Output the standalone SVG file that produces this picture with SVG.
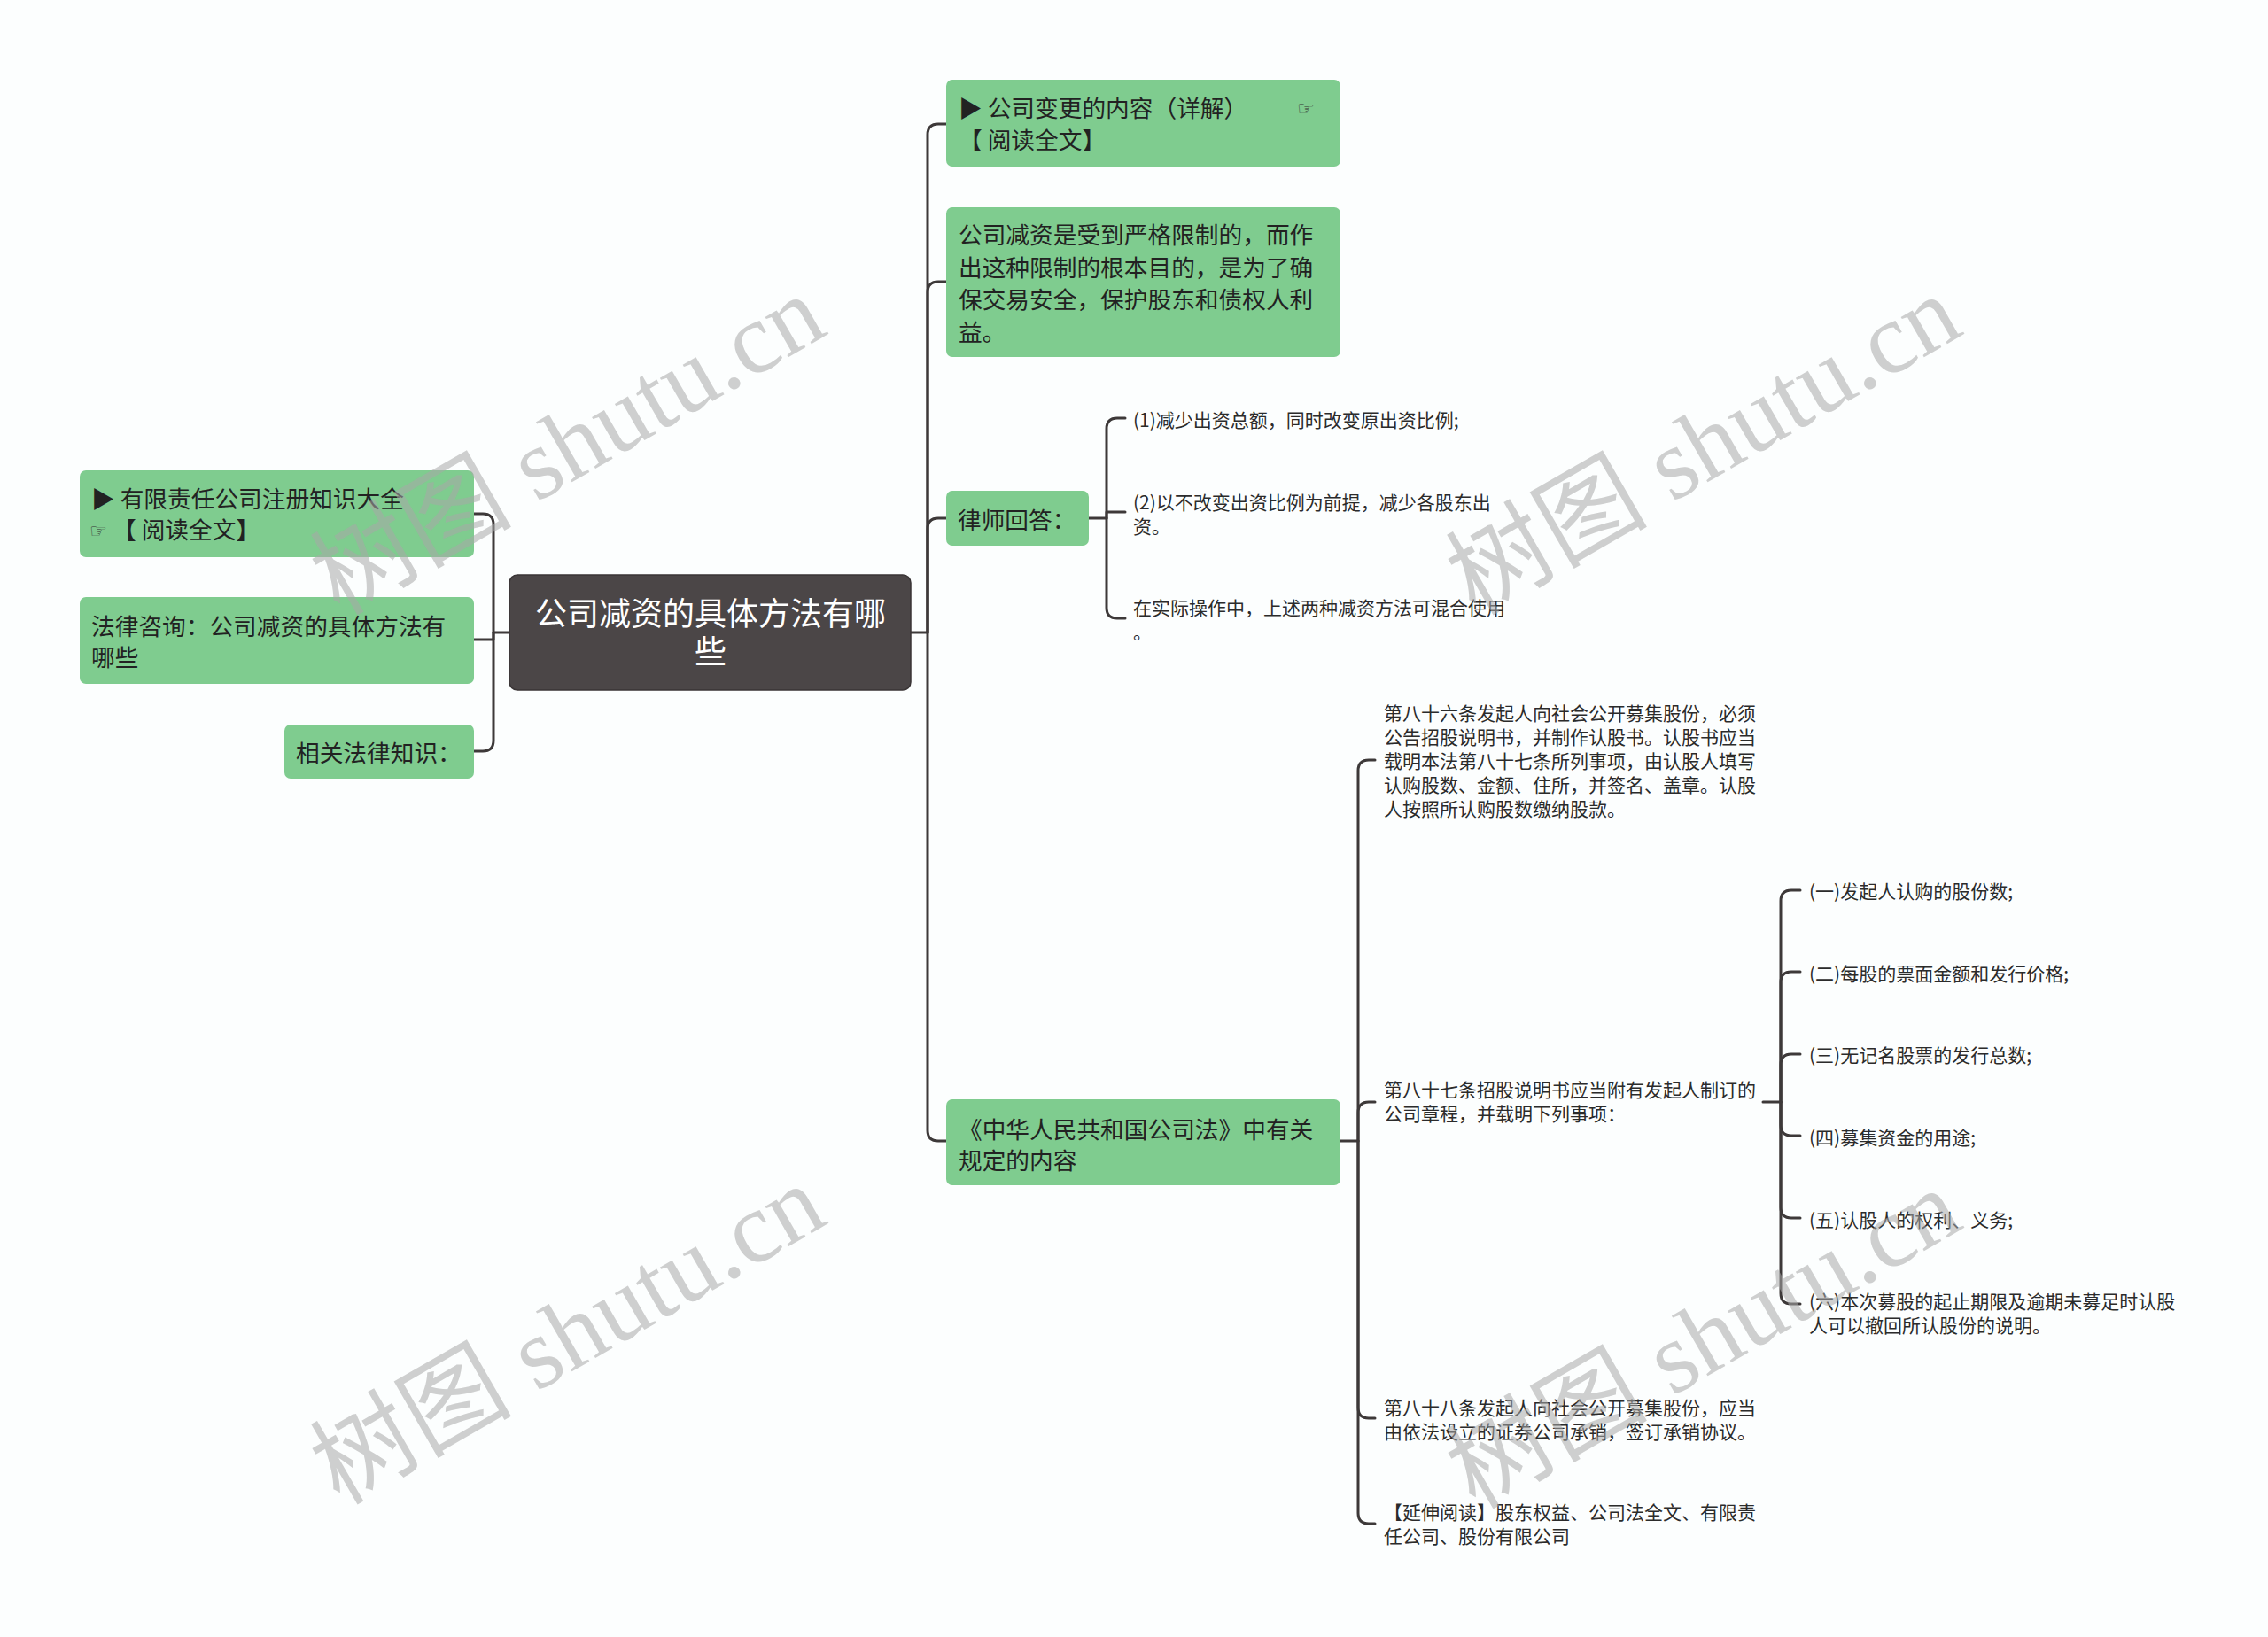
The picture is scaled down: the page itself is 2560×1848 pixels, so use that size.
<svg xmlns="http://www.w3.org/2000/svg" width="2560" height="1848" viewBox="0 0 2560 1848">
<defs>
<style>
.bg{fill:#fcfefe}
.node{fill:#7fcc8f}
.root{fill:#4b4647;stroke:#3a3536;stroke-width:1.5}
.t{font-family:"Noto Sans CJK SC","Noto Sans",sans-serif;fill:#222}
.nt{font-size:26.7px}
.rt{font-size:36px;fill:#ffffff}
.lt{font-size:21px;fill:#2b2b2b}
.hand{font-family:"DejaVu Sans",sans-serif;font-size:22px;fill:#333}
.conn path{fill:none;stroke:#3d3939;stroke-width:3;stroke-linecap:round;stroke-linejoin:round}
.wm{font-family:"Liberation Serif","Noto Sans CJK SC",serif;font-size:114px;fill:#a8a8a8;fill-opacity:0.55}
</style>
</defs>
<rect class="bg" x="0" y="0" width="2560" height="1848"/>

<g id="connectors" class="conn">
<path d="M575,714 H557 V592 Q557,580 545,580 H535"/>
<path d="M557,714 V722 H535"/>
<path d="M557,714 V836 Q557,848 545,848 H535"/>
<path d="M1028,714 H1047 V152 Q1047,140 1059,140 H1068"/>
<path d="M1047,714 V330 Q1047,318 1059,318 H1068"/>
<path d="M1047,714 V597 Q1047,585 1059,585 H1068"/>
<path d="M1047,714 V1276 Q1047,1288 1059,1288 H1068"/>
<path d="M1229,585 H1249 V484 Q1249,472 1261,472 H1270"/>
<path d="M1249,585 V578 H1270"/>
<path d="M1249,585 V686 Q1249,698 1261,698 H1270"/>
<path d="M1513,1288 H1533 V870 Q1533,858 1545,858 H1552"/>
<path d="M1533,1288 V1256 Q1533,1244 1545,1244 H1552"/>
<path d="M1533,1288 V1589 Q1533,1601 1545,1601 H1552"/>
<path d="M1533,1288 V1708 Q1533,1720 1545,1720 H1552"/>
<path d="M1990,1244 H2010 V1017 Q2010,1005 2022,1005 H2032"/>
<path d="M2010,1244 V1109 Q2010,1097 2022,1097 H2032"/>
<path d="M2010,1244 V1202 Q2010,1190 2022,1190 H2032"/>
<path d="M2010,1244 V1270 Q2010,1282 2022,1282 H2032"/>
<path d="M2010,1244 V1363 Q2010,1375 2022,1375 H2032"/>
<path d="M2010,1244 V1460 Q2010,1472 2022,1472 H2032"/>
</g>

<g id="root">
<rect class="root" x="575" y="649" width="453" height="130" rx="9"/>
<text class="t rt" text-anchor="middle"><tspan x="802" y="706">公司减资的具体方法有哪</tspan><tspan x="802" y="749">些</tspan></text>
</g>

<g id="left1">
<rect class="node" x="90" y="531" width="445" height="98" rx="7"/>
<text class="t nt"><tspan x="103" y="573">▶ 有限责任公司注册知识大全</tspan></text>
<text class="hand" x="101" y="607">☞</text>
<text class="t nt" x="127" y="608">【 阅读全文】</text>
</g>

<g id="left2">
<rect class="node" x="90" y="674" width="445" height="98" rx="7"/>
<text class="t nt"><tspan x="103" y="717">法律咨询：公司减资的具体方法有</tspan><tspan x="103" y="752">哪些</tspan></text>
</g>

<g id="left3">
<rect class="node" x="321" y="818" width="214" height="61" rx="7"/>
<text class="t nt" x="334" y="860">相关法律知识：</text>
</g>

<g id="nodeA">
<rect class="node" x="1068" y="90" width="445" height="98" rx="7"/>
<text class="t nt" x="1082" y="132">▶ 公司变更的内容（详解）</text>
<text class="hand" x="1464" y="130">☞</text>
<text class="t nt" x="1082" y="168">【 阅读全文】</text>
</g>

<g id="nodeB">
<rect class="node" x="1068" y="234" width="445" height="169" rx="7"/>
<text class="t nt"><tspan x="1082" y="275">公司减资是受到严格限制的，而作</tspan><tspan x="1082" y="312">出这种限制的根本目的，是为了确</tspan><tspan x="1082" y="348">保交易安全，保护股东和债权人利</tspan><tspan x="1082" y="385">益。</tspan></text>
</g>

<g id="nodeC">
<rect class="node" x="1068" y="554" width="161" height="62" rx="7"/>
<text class="t nt" x="1081" y="597">律师回答：</text>
</g>

<g id="nodeC1"><text class="t lt" x="1279" y="482">(1)减少出资总额，同时改变原出资比例;</text></g>
<g id="nodeC2"><text class="t lt"><tspan x="1279" y="575">(2)以不改变出资比例为前提，减少各股东出</tspan><tspan x="1279" y="602">资。</tspan></text></g>
<g id="nodeC3"><text class="t lt"><tspan x="1279" y="694">在实际操作中，上述两种减资方法可混合使用</tspan><tspan x="1279" y="721">。</tspan></text></g>

<g id="nodeD">
<rect class="node" x="1068" y="1241" width="445" height="97" rx="7"/>
<text class="t nt"><tspan x="1082" y="1285">《中华人民共和国公司法》中有关</tspan><tspan x="1082" y="1320">规定的内容</tspan></text>
</g>

<g id="nodeD1"><text class="t lt"><tspan x="1562" y="813">第八十六条发起人向社会公开募集股份，必须</tspan><tspan x="1562" y="840">公告招股说明书，并制作认股书。认股书应当</tspan><tspan x="1562" y="867">载明本法第八十七条所列事项，由认股人填写</tspan><tspan x="1562" y="894">认购股数、金额、住所，并签名、盖章。认股</tspan><tspan x="1562" y="921">人按照所认购股数缴纳股款。</tspan></text></g>
<g id="nodeD2"><text class="t lt"><tspan x="1562" y="1238">第八十七条招股说明书应当附有发起人制订的</tspan><tspan x="1562" y="1265">公司章程，并载明下列事项：</tspan></text></g>
<g id="nodeD2a"><text class="t lt" x="2042" y="1014">(一)发起人认购的股份数;</text></g>
<g id="nodeD2b"><text class="t lt" x="2042" y="1107">(二)每股的票面金额和发行价格;</text></g>
<g id="nodeD2c"><text class="t lt" x="2042" y="1199">(三)无记名股票的发行总数;</text></g>
<g id="nodeD2d"><text class="t lt" x="2042" y="1292">(四)募集资金的用途;</text></g>
<g id="nodeD2e"><text class="t lt" x="2042" y="1385">(五)认股人的权利、义务;</text></g>
<g id="nodeD2f"><text class="t lt"><tspan x="2042" y="1477">(六)本次募股的起止期限及逾期未募足时认股</tspan><tspan x="2042" y="1504">人可以撤回所认股份的说明。</tspan></text></g>
<g id="nodeD3"><text class="t lt"><tspan x="1562" y="1597">第八十八条发起人向社会公开募集股份，应当</tspan><tspan x="1562" y="1624">由依法设立的证券公司承销，签订承销协议。</tspan></text></g>
<g id="nodeD4"><text class="t lt"><tspan x="1562" y="1715">【延伸阅读】股东权益、公司法全文、有限责</tspan><tspan x="1562" y="1742">任公司、股份有限公司</tspan></text></g>

<g id="watermarks">
<text class="wm" text-anchor="middle" transform="translate(660,536) rotate(-30)">树图 shutu.cn</text>
<text class="wm" text-anchor="middle" transform="translate(1942,536) rotate(-30)">树图 shutu.cn</text>
<text class="wm" text-anchor="middle" transform="translate(660,1540) rotate(-30)">树图 shutu.cn</text>
<text class="wm" text-anchor="middle" transform="translate(1942,1545) rotate(-30)">树图 shutu.cn</text>
</g>
</svg>
